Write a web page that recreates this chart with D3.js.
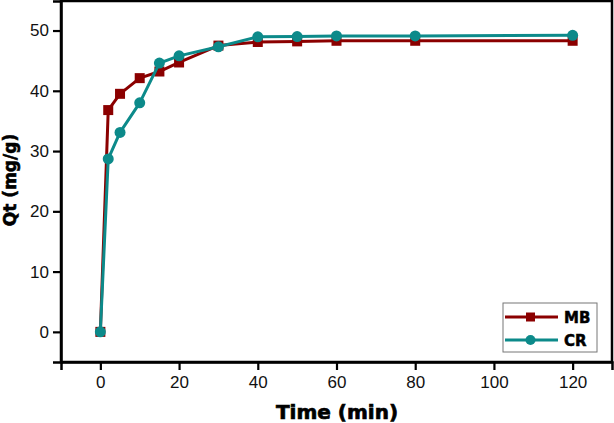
<!DOCTYPE html>
<html><head><meta charset="utf-8">
<script src="https://cdn.jsdelivr.net/npm/d3@7"></script>
<style>html,body{margin:0;padding:0;background:#fff;}svg{display:block;}</style>
</head><body>
<script>
const times = [0, 2, 5, 10, 15, 20, 30, 40, 50, 60, 80, 120];
const mbValues = [0, 36.8, 39.5, 42.1, 43.2, 44.7, 47.5, 48.1, 48.2, 48.3, 48.3, 48.3];
const crValues = [0, 28.7, 33.1, 38.0, 44.6, 45.8, 47.3, 48.95, 49.0, 49.1, 49.1, 49.2];
const xTicks = [0, 20, 40, 60, 80, 100, 120];
const yTicks = [0, 10, 20, 30, 40, 50];
const seriesNames = ["MB", "CR"];
const seriesColors = ["#8b0000", "#0c8a8a"];

(function () {
const W = 614, H = 423;
const mLeft = 61, mRight = 612, mTop = 1, mBottom = 362;
const svg = d3.select("body").append("svg").attr("width", W).attr("height", H);

const x = d3.scaleLinear().domain([-10, 130]).range([mLeft, mRight]);
const y = d3.scaleLinear().domain([-5, 54.9]).range([mBottom, mTop]);

svg.append("rect").attr("x", mLeft).attr("y", mTop).attr("width", mRight - mLeft).attr("height", mBottom - mTop)
  .attr("fill", "none").attr("stroke", "#000").attr("stroke-width", 2.5);

const xAxis = svg.append("g").attr("transform", `translate(0,${mBottom})`)
  .call(d3.axisBottom(x).tickValues(xTicks).tickSize(8).tickPadding(6).tickFormat(d3.format("d")));
const yAxis = svg.append("g").attr("transform", `translate(${mLeft},0)`)
  .call(d3.axisLeft(y).tickValues(yTicks).tickSize(8).tickPadding(4).tickFormat(d3.format("d")));
[xAxis, yAxis].forEach(g => {
  g.select(".domain").attr("stroke", "#000").attr("stroke-width", 2.5);
  g.selectAll(".tick line").attr("stroke", "#000").attr("stroke-width", 2.2);
  g.selectAll(".tick text").attr("fill", "#111").style("font-family", "Liberation Sans, Arial, sans-serif").style("font-size", "17px");
});

const line = d3.line().x(d => x(d[0])).y(d => y(d[1]));
const data = [mbValues, crValues].map(vals => times.map((t, i) => [t, vals[i]]));

svg.append("path").datum(data[0]).attr("d", line).attr("fill", "none")
  .attr("stroke", seriesColors[0]).attr("stroke-width", 3).attr("stroke-linejoin", "round");
svg.selectAll(".mbpt").data(data[0]).enter().append("rect")
  .attr("x", d => x(d[0]) - 5).attr("y", d => y(d[1]) - 5).attr("width", 10).attr("height", 10)
  .attr("fill", seriesColors[0]);
svg.append("path").datum(data[1]).attr("d", line).attr("fill", "none")
  .attr("stroke", seriesColors[1]).attr("stroke-width", 3).attr("stroke-linejoin", "round");
svg.selectAll(".crpt").data(data[1]).enter().append("circle")
  .attr("cx", d => x(d[0])).attr("cy", d => y(d[1])).attr("r", 5.5)
  .attr("fill", seriesColors[1]);

svg.append("text").attr("x", 337).attr("y", 419).attr("text-anchor", "middle")
  .style("font-family", "DejaVu Sans, sans-serif").style("font-weight", "bold").style("font-size", "20px")
  .attr("stroke", "#000").attr("stroke-width", 0.7).text("Time (min)");
svg.append("text").attr("transform", "translate(16,180) rotate(-90)").attr("text-anchor", "middle")
  .style("font-family", "DejaVu Sans, sans-serif").style("font-weight", "bold").style("font-size", "17px")
  .attr("stroke", "#000").attr("stroke-width", 0.6).text("Qt (mg/g)");

const lg = svg.append("g");
lg.append("rect").attr("x", 503).attr("y", 303).attr("width", 94).attr("height", 49)
  .attr("fill", "#fff").attr("stroke", "#777").attr("stroke-width", 1);
seriesNames.forEach((name, i) => {
  const ly = 317 + i * 23;
  lg.append("line").attr("x1", 505).attr("x2", 558).attr("y1", ly).attr("y2", ly)
    .attr("stroke", seriesColors[i]).attr("stroke-width", 3);
  if (i === 0) lg.append("rect").attr("x", 526).attr("y", ly - 4.5).attr("width", 9).attr("height", 9).attr("fill", seriesColors[i]);
  else lg.append("circle").attr("cx", 530.5).attr("cy", ly).attr("r", 5).attr("fill", seriesColors[i]);
  lg.append("text").attr("x", 564).attr("y", ly + 5.5)
    .style("font-family", "DejaVu Sans, sans-serif").style("font-weight", "bold").style("font-size", "15px")
    .attr("stroke", "#000").attr("stroke-width", 0.5).text(name);
});
})();
</script>
</body></html>
